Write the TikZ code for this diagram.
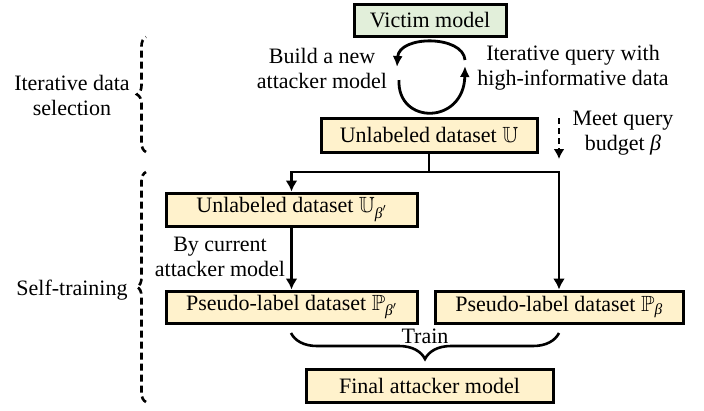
\documentclass[tikz,border=0pt]{standalone}
\usepackage{fontspec}
\usepackage{amsmath,amssymb}
\setmainfont{Liberation Serif}
\usetikzlibrary{arrows.meta,decorations.pathreplacing}
\definecolor{victimgreen}{RGB}{226,239,218}
\definecolor{datayellow}{RGB}{255,242,204}
\newcommand{\bt}{\text{\itshape β}}
\tikzset{
  box/.style={draw,line width=3pt,minimum height=32pt,inner sep=0pt},
  databox/.style={box,fill=datayellow},
  flow/.style={line width=2.6pt,-{Latex[length=11pt,width=12pt]}},
  loop/.style={line width=2.8pt,-{Latex[length=11pt,width=10pt]}},
  dbrace/.style={line width=2.6pt,dash pattern=on 7pt off 4pt,decorate,decoration={brace,amplitude=9pt}},
  lbl/.style={align=center,inner sep=0pt}
}
\begin{document}
\begin{tikzpicture}[x=1pt,y=-1pt,font=\rmfamily\fontsize{22}{25}\selectfont]
  \useasboundingbox (0,0) rectangle (704,410);
  % boxes
  \node[box,fill=victimgreen,minimum width=152pt] (vict) at (430,20) {Victim model};
  \node[databox,minimum width=216pt,minimum height=34pt] (unl) at (429,135) {Unlabeled dataset $\mathbb{U}$};
  \node[databox,minimum width=251pt,minimum height=33pt] (unlb) at (291.5,209.5) {Unlabeled dataset $\mathbb{U}_{\bt'}$};
  \node[databox,minimum width=251pt] (pslb) at (291.5,307) {Pseudo-label dataset $\mathbb{P}_{\bt'}$};
  \node[databox,minimum width=248pt] (psl) at (559,307) {Pseudo-label dataset $\mathbb{P}_{\bt}$};
  \node[databox,minimum width=247pt,minimum height=33pt] (fin) at (429.5,385.5) {Final attacker model};
  % loop between victim and unlabeled data
  \coordinate (lpa) at (465,60);
  \coordinate (lpb) at (397,67);
  \coordinate (lpc) at (399,80);
  \coordinate (lpd) at (465,66);
  \draw[loop] (lpa) .. controls (463,35) and (399,35) .. (lpb);
  \draw[loop] (lpc) .. controls (397,125) and (464,125) .. (lpd);
  \node[lbl] (build) at (322,68) {Build a new\\attacker model};
  \node[lbl] (query) at (573,68) {Iterative query with\\high-informative data};
  % budget
  \coordinate (bgt) at (559,118);
  \coordinate (bgb) at (559,159);
  \draw[line width=2.6pt,dash pattern=on 6pt off 4pt,-{Latex[length=10pt,width=11pt]}] (bgt) -- (bgb);
  \node[lbl] (meet) at (623,133) {Meet query\\budget {\itshape β}};
  % split
  \coordinate (split) at (429,172);
  \draw[line width=2.6pt] (unl.south) -- (split);
  \draw[flow] (split) -| (unlb.north);
  \draw[flow] (split) -| (psl.north);
  \draw[flow] (unlb.south) -- (pslb.north);
  \node[lbl] (cur) at (220,257) {By current\\attacker model};
  % train brace
  \coordinate (trl) at (291,333);
  \coordinate (trr) at (559,333);
  \draw[line width=2.6pt,decorate,decoration={brace,mirror,amplitude=26pt}] (trl) -- (trr);
  \node[lbl] (train) at (425,336) {Train};
  % left braces
  \coordinate (ita) at (146,37);
  \coordinate (itb) at (146,152);
  \draw[dbrace] (itb) -- (ita);
  \node[lbl] (itsel) at (72,95) {Iterative data\\selection};
  \coordinate (sta) at (146,172);
  \coordinate (stb) at (146,402);
  \draw[dbrace] (stb) -- (sta);
  \node[lbl] (self) at (72,290) {Self-training};
\end{tikzpicture}
\end{document}
